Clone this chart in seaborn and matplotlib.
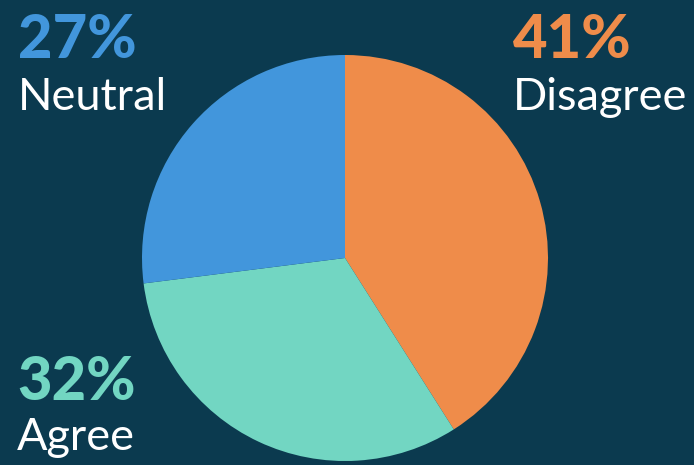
import matplotlib
matplotlib.use("Agg")
import matplotlib.pyplot as plt
import seaborn as sns

# Survey response shares
categories = ["Disagree", "Agree", "Neutral"]
shares = [41, 32, 27]
palette = ["#ef8c4a", "#72d6c2", "#4296dc"]

BG = "#0b3a4f"

sns.set_theme(style="white")
plt.rcParams["font.family"] = ["Lato", "DejaVu Sans"]

fig = plt.figure(figsize=(6.94, 4.65), dpi=100, facecolor=BG)
ax = fig.add_axes([0, 0, 1, 1])
ax.set_facecolor(BG)

ax.pie(shares, colors=palette, startangle=90, counterclock=False,
       center=(345, 207), radius=203, frame=True,
       wedgeprops=dict(linewidth=0))
ax.set_xlim(0, 694)
ax.set_ylim(0, 465)
ax.set_aspect("equal")
ax.axis("off")

# Label blocks: (category, x, y of percent baseline, y of name baseline)
label_pos = {
    "Neutral": (18, 465 - 58, 465 - 110),
    "Disagree": (513, 465 - 58, 465 - 110),
    "Agree": (17, 465 - 400, 465 - 450),
}
for cat, val, col in zip(categories, shares, palette):
    x, yp, yn = label_pos[cat]
    ax.text(x, yp, f"{val}%", color=col, fontsize=43, fontweight="black",
            ha="left", va="baseline")
    ax.text(x, yn, cat, color="white", fontsize=32.5,
            ha="left", va="baseline")

fig.savefig("out.png", dpi=100, facecolor=BG)
